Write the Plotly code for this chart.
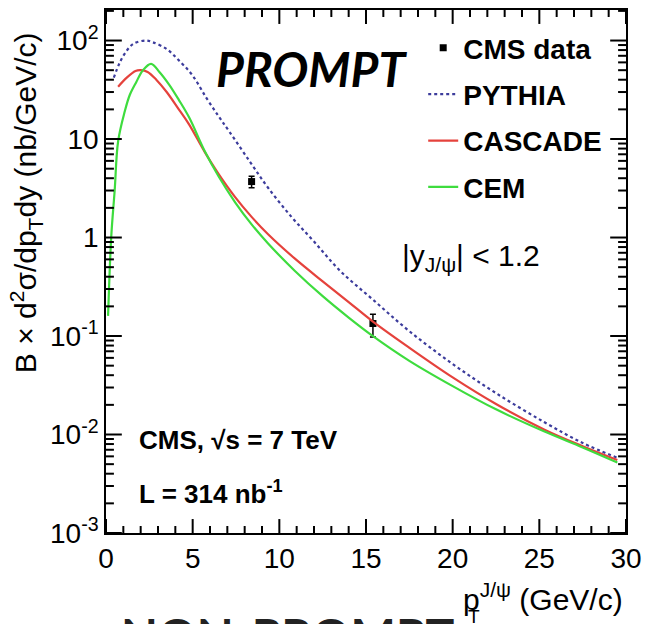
import math
import plotly.graph_objects as go

# ---------------- data ----------------
pythia_pt = [0.45, 0.8, 1.2, 1.6, 2.3, 2.7, 3.5, 4.2, 5.0, 5.8, 6.5, 7.1, 8.3, 9.35, 10.7,
             12.0, 13.5, 15.4, 17.5, 20.0, 22.5, 25.3, 27.5, 29.5]
pythia_y = [42, 60, 79, 93, 100, 96, 82, 63, 44, 26, 17, 12, 5.9, 3.2, 1.62,
            0.91, 0.46, 0.234, 0.112, 0.052, 0.0263, 0.0133, 0.0082, 0.0058]

cascade_pt = [0.7, 1.2, 1.7, 2.0, 2.4, 2.9, 3.5, 4.2, 4.8, 5.7, 6.5, 7.45, 8.4, 9.35, 10.9,
              12.5, 14.0, 15.4, 17.5, 20.0, 22.5, 25.3, 27.5, 29.5]
cascade_y = [34, 42, 49, 50, 48, 40, 30, 20, 14, 7.36, 4.4, 2.57, 1.62, 1.08, 0.61,
             0.359, 0.221, 0.14, 0.076, 0.038, 0.0204, 0.0112, 0.0076, 0.0055]

cem_pt = [0.12, 0.3, 0.5, 0.7, 1.08, 1.37, 1.75, 2.13, 2.6, 3.08, 3.65, 4.2, 4.8, 5.7, 6.5,
          7.45, 8.4, 9.35, 10.9, 12.5, 14.0, 15.4, 17.5, 20.0, 22.5, 25.3, 27.5, 29.5]
cem_y = [0.16, 1.0, 3.0, 9.5, 19, 28, 38, 50, 58, 48, 35.5, 25, 16.5, 7.5, 4.16,
         2.28, 1.36, 0.87, 0.458, 0.254, 0.154, 0.0998, 0.056, 0.031, 0.018, 0.0107, 0.0074, 0.0052]

data_pt = [8.4, 15.4]
data_y = [3.7, 0.134]
data_err_up = [0.5, 0.032]
data_err_dn = [0.5, 0.036]

x_major = [0, 5, 10, 15, 20, 25, 30]
x_minor = [v for v in range(0, 31) if v % 5]
y_tickvals = [0.001, 0.01, 0.1, 1, 10, 100]
y_ticktext = ["10<sup>-3</sup>", "10<sup>-2</sup>", "10<sup>-1</sup>", "1", "10", "10<sup>2</sup>"]
y_minor = [k * 10.0 ** e for e in range(-3, 3) for k in range(2, 10)]

FONT = "Liberation Sans, Arial, sans-serif"
XR = [0, 30]
YR = [-3, 2.31]
PW, PH = 526, 525  # plot area size in px

fig = go.Figure()
fig.add_trace(go.Scatter(
    x=data_pt, y=data_y, mode="markers", name="<b>CMS data</b>",
    marker=dict(symbol="square", size=7, color="black"),
    error_y=dict(type="data", symmetric=False, array=data_err_up, arrayminus=data_err_dn,
                 color="black", thickness=1.5, width=3),
    legendgroup="a"))
fig.add_trace(go.Scatter(
    x=pythia_pt, y=pythia_y, mode="lines", name="<b>PYTHIA</b>",
    line=dict(color="#3c3c9c", width=2.2, dash="dot", shape="spline"), legendgroup="b"))
fig.add_trace(go.Scatter(
    x=cascade_pt, y=cascade_y, mode="lines", name="<b>CASCADE</b>",
    line=dict(color="#e5423c", width=2.2, shape="spline"), legendgroup="c"))
fig.add_trace(go.Scatter(
    x=cem_pt, y=cem_y, mode="lines", name="<b>CEM</b>",
    line=dict(color="#3edc3e", width=2.2, shape="spline"), legendgroup="d"))

fig.update_layout(
    width=650, height=624,
    margin=dict(l=106, r=18, t=8, b=91),
    paper_bgcolor="white", plot_bgcolor="white",
    font=dict(family=FONT, color="black"),
    showlegend=True,
    legend=dict(x=0.61, y=0.975, xanchor="left", yanchor="top",
                bgcolor="rgba(0,0,0,0)", font=dict(size=28, family=FONT, color="black"),
                tracegroupgap=7, itemwidth=30),
    xaxis=dict(range=XR, tickvals=x_major, ticks="", showline=True, linecolor="black",
               linewidth=1.6, mirror=True, showgrid=False, zeroline=False,
               tickfont=dict(size=28, family=FONT)),
    yaxis=dict(type="log", range=YR, tickvals=y_tickvals, ticktext=y_ticktext,
               ticks="", showline=True, linecolor="black", linewidth=1.6, mirror=True,
               showgrid=False, zeroline=False, tickfont=dict(size=28, family=FONT)),
)

# axis tick marks pointing into the frame (positioned from the axis ranges)
def xpaper(v):
    return (v - XR[0]) / (XR[1] - XR[0])

def ypaper(v):
    return (math.log10(v) - YR[0]) / (YR[1] - YR[0])

tick_line = dict(color="black", width=2)
for vals, L in [(x_major, 14), (x_minor, 7)]:
    for v in vals:
        xp = xpaper(v)
        fig.add_shape(type="line", xref="paper", yref="paper", x0=xp, x1=xp, y0=0, y1=L / PH,
                      line=tick_line, layer="above")
        fig.add_shape(type="line", xref="paper", yref="paper", x0=xp, x1=xp, y0=1, y1=1 - L / PH,
                      line=tick_line, layer="above")
for vals, L in [(y_tickvals, 16), (y_minor, 8)]:
    for v in vals:
        yp = ypaper(v)
        if yp > 1:
            continue
        fig.add_shape(type="line", xref="paper", yref="paper", x0=0, x1=L / PW, y0=yp, y1=yp,
                      line=tick_line, layer="above")
        fig.add_shape(type="line", xref="paper", yref="paper", x0=1, x1=1 - L / PW, y0=yp, y1=yp,
                      line=tick_line, layer="above")

ann = [
    dict(text="<b><i>PROMPT</i></b>", x=314, y=67, font=dict(family="Lato, sans-serif", size=48, color="black")),
    dict(text="|y<sub>J/ψ</sub>| < 1.2", x=475, y=256, font=dict(family=FONT, size=30)),
    dict(text="<b>CMS, √s = 7 TeV</b>", x=137, y=440, xanchor="left", font=dict(family=FONT, size=26)),
    dict(text="<b>L = 314 nb<sup>-1</sup></b>", x=137, y=492, xanchor="left", font=dict(family=FONT, size=26)),
    dict(text="p<sup>J/ψ</sup> (GeV/c)", x=631, y=597, xanchor="right", font=dict(family=FONT, size=30)),
    dict(text="T", x=478, y=617, font=dict(family=FONT, size=19)),
    dict(text="<b>NON-PROMPT</b>", x=290, y=605, yanchor="top", font=dict(family="Lato, sans-serif", size=48, color="#222")),
]
for a in ann:
    xa = a.pop("x"); ya = a.pop("y")
    fig.add_annotation(x=(xa - 106) / PW, y=(533 - ya) / PH, xref="paper", yref="paper",
                       showarrow=False, **{"xanchor": "center", "yanchor": "middle", **a})

fig.add_annotation(text="B × d<sup>2</sup>σ/dp<sub>T</sub>dy (nb/GeV/c)", textangle=-90,
                   x=(25 - 106) / PW, y=(533 - 201) / PH, xref="paper", yref="paper",
                   showarrow=False, xanchor="center", yanchor="middle",
                   font=dict(family=FONT, size=30))

fig.write_html("out.html")
